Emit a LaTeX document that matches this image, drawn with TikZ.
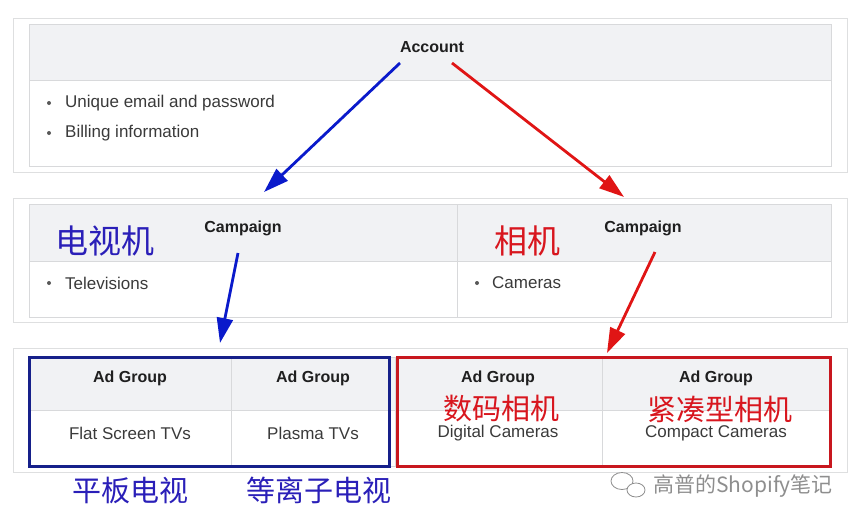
\documentclass[tikz,border=0pt]{standalone}
\usepackage{fontspec}
\setmainfont{Liberation Sans}
\newfontfamily\cjk{Noto Sans CJK SC}
\usetikzlibrary{arrows.meta}
\definecolor{hdrgray}{HTML}{F1F2F4}
\definecolor{linegray}{HTML}{D8D9DB}
\definecolor{txtgray}{HTML}{3A3A3A}
\definecolor{arrblue}{HTML}{0A1ACB}
\definecolor{arrred}{HTML}{E01515}
\definecolor{boxblue}{HTML}{16208A}
\definecolor{boxred}{HTML}{C8171E}
\definecolor{cnblue}{HTML}{2A1FB8}
\definecolor{cnred}{HTML}{D8161E}
\definecolor{markgray}{HTML}{8E8E8E}
\tikzset{
  panel/.style={draw=linegray!85, line width=0.8pt},
  cell/.style={draw=linegray, line width=0.8pt},
  head/.style={cell, fill=hdrgray},
  title/.style={font=\bfseries\fontsize{16}{18}\selectfont, text=black!88},
  item/.style={font=\fontsize{17}{19}\selectfont, text=txtgray, inner sep=0pt},
  dot/.style={circle, fill=txtgray!85, inner sep=0pt, minimum size=4pt},
  cnlabel/.style={font=\cjk\fontsize{29}{32}\selectfont, inner sep=0pt},
  link/.style={line width=2.8pt, -{Triangle[length=25pt,width=16pt]}},
  frame/.style={line width=3pt}
}
\begin{document}
\begin{tikzpicture}[x=1pt,y=-1pt]
  \useasboundingbox (0,0) rectangle (861,525);
  % panels
  \draw[panel] (13,18) rectangle (847,172);
  \draw[panel] (13,198) rectangle (847,322);
  \draw[panel] (13,348) rectangle (847,472);
  % account table
  \draw[head] (29,24) rectangle (831,80);
  \draw[cell] (29,80) rectangle (831,166);
  % campaign table
  \draw[head] (29,204) rectangle (831,261);
  \draw[cell] (29,261) rectangle (831,317);
  \draw[cell] (457,204) -- (457,317);
  % ad group table
  \draw[head] (29,357) rectangle (831,410);
  \draw[cell] (29,410) rectangle (831,466);
  \foreach \x in {231,395,602}
    \draw[cell] (\x,357) -- (\x,466);
  % texts
  \node[title] (acct) at (432,47) {Account};
  \node[dot] (d1) at (49,103) {};
  \node[item, anchor=west] (email) at (65,103) {Unique email and password};
  \node[dot] (d2) at (49,133) {};
  \node[item, anchor=west] (bill) at (65,133) {Billing information};
  \node[title] (camp1) at (243,228) {Campaign};
  \node[title] (camp2) at (643,228) {Campaign};
  \node[dot] (d3) at (49,283) {};
  \node[item, anchor=west] (tv) at (65,283) {Televisions};
  \node[dot] (d4) at (477,283) {};
  \node[item, anchor=west] (cam) at (492,283) {Cameras};
  \node[title] (ag1) at (130,378) {Ad Group};
  \node[title] (ag2) at (313,378) {Ad Group};
  \node[title] (ag3) at (498,378) {Ad Group};
  \node[title] (ag4) at (716,378) {Ad Group};
  \node[item] (flat) at (130,433) {Flat Screen TVs};
  \node[item] (plasma) at (313,433) {Plasma TVs};
  \node[item] (digital) at (498,433) {Digital Cameras};
  \node[item] (compact) at (716,433) {Compact Cameras};
  % chinese labels
  \node[cnlabel, text=cnblue, font=\cjk\fontsize{33}{36}\selectfont] (cn1) at (105,241) {电视机};
  \node[cnlabel, text=cnred, font=\cjk\fontsize{33}{36}\selectfont] (cn2) at (527,241) {相机};
  \node[cnlabel, text=cnred] (cn3) at (501,409) {数码相机};
  \node[cnlabel, text=cnred] (cn4) at (720,409) {紧凑型相机};
  \node[cnlabel, text=cnblue] (cn5) at (130,490) {平板电视};
  \node[cnlabel, text=cnblue] (cn6) at (319,490) {等离子电视};
  % colored frames
  \draw[frame, draw=boxblue] (29,357) rectangle (389,466);
  \draw[frame, draw=boxred] (397,357) rectangle (830,466);
  % arrows
  \coordinate (s1) at (400,63);
  \coordinate (t1) at (264,192);
  \coordinate (s2) at (452,63);
  \coordinate (t2) at (624,197);
  \coordinate (s3) at (238,253);
  \coordinate (t3) at (220,343);
  \coordinate (s4) at (655,252);
  \coordinate (t4) at (607,353);
  \draw[link, arrblue] (s1) -- (t1);
  \draw[link, arrred] (s2) -- (t2);
  \draw[link, arrblue] (s3) -- (t3);
  \draw[link, arrred] (s4) -- (t4);
  % watermark
  \draw[markgray, line width=0.8pt, fill=white] (622,481) ellipse (11 and 8.5);
  \draw[markgray, line width=0.8pt, fill=white] (636,490) ellipse (9 and 7);
  \node[font=\cjk\fontsize{21}{23}\selectfont, text=markgray, inner sep=0pt] (mark) at (743,486) {高普的Shopify笔记};
\end{tikzpicture}
\end{document}
